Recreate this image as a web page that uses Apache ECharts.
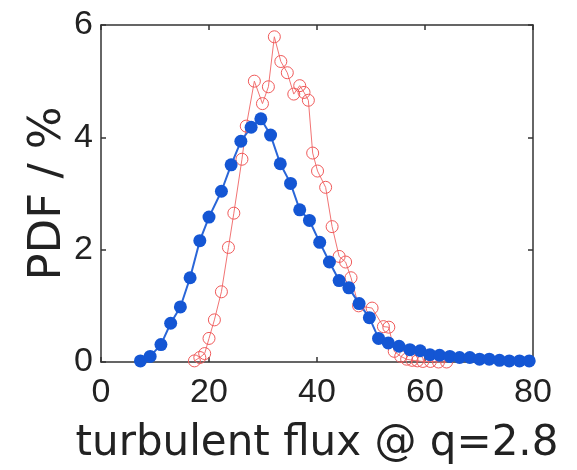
<!DOCTYPE html>
<html>
<head>
<meta charset="utf-8">
<script src="https://cdn.jsdelivr.net/npm/echarts@6/dist/echarts.min.js"></script>
<style>html,body{margin:0;padding:0;background:#fff;}#c{width:577px;height:470px;}</style>
</head>
<body>
<div id="c"></div>
<script>
// Blue series (filled circles)
const blueX = [7.3, 9.1, 11.1, 12.9, 14.7, 16.5, 18.3, 20.0, 22.3, 24.1, 25.9, 27.8, 29.6, 31.4, 33.2, 35.1, 36.8, 38.6, 40.5, 42.3, 44.1, 45.9, 47.8, 49.7, 51.4, 53.2, 55.2, 57.2, 59.1, 60.9, 62.7, 64.6, 66.4, 68.3, 70.1, 71.9, 73.8, 75.6, 77.5, 79.3];
const blueY = [0.02, 0.10, 0.31, 0.69, 0.98, 1.50, 2.16, 2.58, 3.04, 3.51, 3.93, 4.18, 4.33, 4.04, 3.53, 3.18, 2.71, 2.52, 2.13, 1.78, 1.45, 1.32, 1.04, 0.79, 0.42, 0.34, 0.28, 0.22, 0.20, 0.13, 0.12, 0.10, 0.08, 0.08, 0.05, 0.05, 0.03, 0.02, 0.02, 0.02];
// Red series (open circles)
const redX = [17.3, 18.3, 19.2, 20.0, 21.0, 22.3, 23.6, 24.6, 26.1, 26.9, 28.4, 29.9, 31.0, 32.1, 33.3, 34.5, 35.7, 36.8, 37.6, 38.4, 39.2, 40.1, 41.6, 42.8, 44.1, 45.3, 46.3, 47.7, 50.2, 52.3, 53.3, 54.3, 55.5, 56.6, 57.6, 58.6, 59.6, 61.0, 62.5, 64.0];
const redY = [0.02, 0.08, 0.15, 0.42, 0.75, 1.25, 2.04, 2.65, 3.61, 4.20, 5.00, 4.60, 4.90, 5.79, 5.35, 5.15, 4.77, 4.92, 4.80, 4.66, 3.72, 3.40, 3.11, 2.41, 1.88, 1.78, 1.50, 1.00, 0.96, 0.63, 0.62, 0.19, 0.10, 0.05, 0.03, 0.02, 0.01, 0.01, 0.00, 0.00];
// Axis ticks
const xTicks = [0, 20, 40, 60, 80];
const yTicks = [0, 2, 4, 6];

const bluePts = blueX.map((x, i) => [x, blueY[i]]);
const redPts = redX.map((x, i) => [x, redY[i]]);

const axisLineStyle = { color: '#333', width: 1.5 };
const chart = echarts.init(document.getElementById('c'), null, { renderer: 'canvas' });
chart.setOption({
  animation: false,
  backgroundColor: '#fff',
  grid: { left: 101, right: 44, top: 25, bottom: 102, containLabel: false },
  xAxis: [
    {
      type: 'value', min: xTicks[0], max: xTicks[xTicks.length - 1], interval: 20, position: 'bottom',
      axisLine: { show: true, onZero: false, lineStyle: axisLineStyle },
      axisTick: { show: true, inside: true, length: 5, lineStyle: axisLineStyle },
      axisLabel: { fontSize: 34, color: '#222', margin: 14, fontFamily: 'Liberation Sans' },
      splitLine: { show: false },
      name: 'turbulent flux @ q=2.8', nameLocation: 'middle', nameGap: 61, nameMoveOverlap: false,
      nameTextStyle: { fontSize: 42, color: '#222', fontFamily: 'DejaVu Sans' }
    },
    {
      type: 'value', min: xTicks[0], max: xTicks[xTicks.length - 1], interval: 20, position: 'top',
      axisLine: { show: true, onZero: false, lineStyle: axisLineStyle },
      axisTick: { show: true, inside: true, length: 5, lineStyle: axisLineStyle },
      axisLabel: { show: false }, splitLine: { show: false }
    }
  ],
  yAxis: [
    {
      type: 'value', min: yTicks[0], max: yTicks[yTicks.length - 1], interval: 2, position: 'left',
      axisLine: { show: true, onZero: false, lineStyle: axisLineStyle },
      axisTick: { show: true, inside: true, length: 5, lineStyle: axisLineStyle },
      axisLabel: { fontSize: 34, color: '#222', margin: 8, fontFamily: 'Liberation Sans' },
      splitLine: { show: false },
      name: 'PDF / %', nameLocation: 'middle', nameGap: 30, nameMoveOverlap: false,
      nameTextStyle: { fontSize: 45, color: '#222', fontFamily: 'DejaVu Sans' }
    },
    {
      type: 'value', min: yTicks[0], max: yTicks[yTicks.length - 1], interval: 2, position: 'right',
      axisLine: { show: true, onZero: false, lineStyle: axisLineStyle },
      axisTick: { show: true, inside: true, length: 5, lineStyle: axisLineStyle },
      axisLabel: { show: false }, splitLine: { show: false }
    }
  ],
  series: [
    {
      type: 'line', xAxisIndex: 0, yAxisIndex: 0, data: redPts,
      symbol: 'circle', symbolSize: 12, showAllSymbol: true, clip: false,
      itemStyle: { color: 'rgba(255,255,255,0)', borderColor: '#f05a5a', borderWidth: 1 },
      lineStyle: { color: '#f27474', width: 1 }
    },
    {
      type: 'line', xAxisIndex: 0, yAxisIndex: 0, data: bluePts,
      symbol: 'circle', symbolSize: 13, showAllSymbol: true, clip: false,
      itemStyle: { color: '#1456d4', borderWidth: 0 },
      lineStyle: { color: '#2a66d8', width: 2 }
    }
  ]
});
</script>
</body>
</html>
